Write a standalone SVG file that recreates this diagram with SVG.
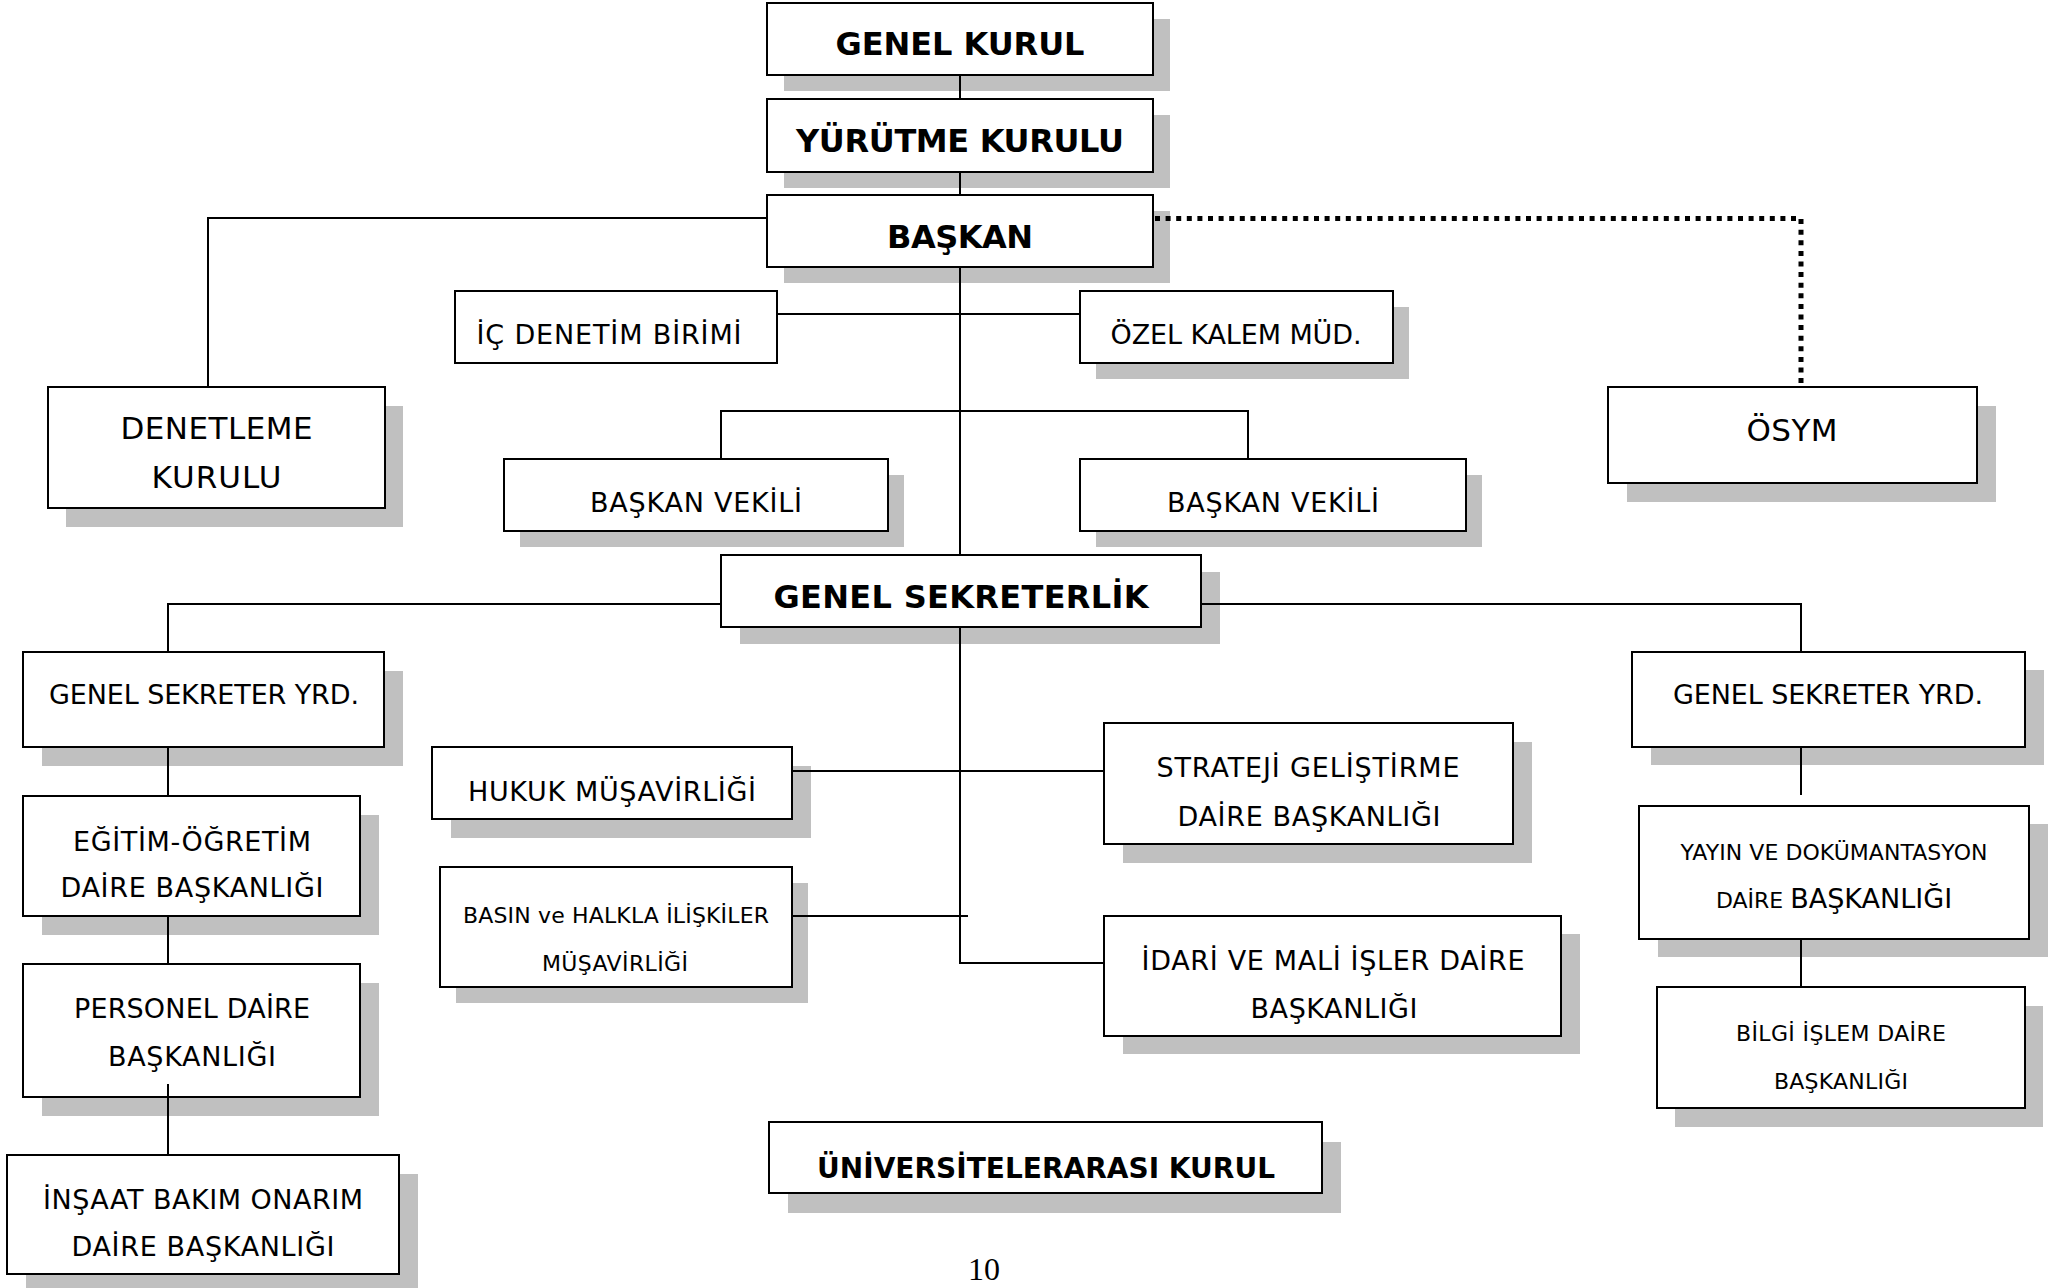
<svg xmlns="http://www.w3.org/2000/svg" width="2062" height="1288" viewBox="0 0 2062 1288">
<style>
.sh{fill:#c0c0c0;stroke:none}
.bx{fill:#fff;stroke:#000;stroke-width:2}
.ln{fill:none;stroke:#000;stroke-width:2}
.dot{fill:none;stroke:#000;stroke-width:5;stroke-dasharray:5 5.6}
text{font-family:"DejaVu Sans","Verdana",sans-serif;fill:#000;text-anchor:middle}
.b{font-weight:bold;font-size:32px}
.b2{font-weight:bold;font-size:28px}
.l{font-size:31px}
.m{font-size:27px}
.s{font-size:22px}
.pg{font-family:"Liberation Serif","Times New Roman",serif;font-size:32px}
</style>
<rect width="2062" height="1288" fill="#fff"/>
<g id="genel-kurul"><rect class="sh" x="784" y="19" width="386" height="72"/><rect class="bx" x="767" y="3" width="386" height="72"/><text class="b" x="960" y="55" textLength="249" lengthAdjust="spacing">GENEL KURUL</text></g>
<g id="yurutme-kurulu"><rect class="sh" x="784" y="115" width="386" height="73"/><rect class="bx" x="767" y="99" width="386" height="73"/><text class="b" x="960" y="152" textLength="328" lengthAdjust="spacing">YÜRÜTME KURULU</text></g>
<g id="baskan"><rect class="sh" x="784" y="211" width="386" height="72"/><rect class="bx" x="767" y="195" width="386" height="72"/><text class="b" x="960" y="248" textLength="146" lengthAdjust="spacing">BAŞKAN</text></g>
<g id="denetleme-kurulu"><rect class="sh" x="66" y="406" width="337" height="121"/><rect class="bx" x="48" y="387" width="337" height="121"/><text class="l" x="216.5" y="439" textLength="192" lengthAdjust="spacing">DENETLEME</text><text class="l" x="216.5" y="488" textLength="130" lengthAdjust="spacing">KURULU</text></g>
<g id="ic-denetim"><rect class="bx" x="455" y="291" width="322" height="72"/><text class="m" x="609" y="344" textLength="265" lengthAdjust="spacing">İÇ DENETİM BİRİMİ</text></g>
<g id="ozel-kalem"><rect class="sh" x="1096" y="307" width="313" height="72"/><rect class="bx" x="1080" y="291" width="313" height="72"/><text class="m" x="1236" y="344" textLength="251" lengthAdjust="spacing">ÖZEL KALEM MÜD.</text></g>
<g id="osym"><rect class="sh" x="1627" y="406" width="369" height="96"/><rect class="bx" x="1608" y="387" width="369" height="96"/><text class="l" x="1792" y="441" textLength="91" lengthAdjust="spacing">ÖSYM</text></g>
<g id="baskan-vekili-1"><rect class="sh" x="520" y="475" width="384" height="72"/><rect class="bx" x="504" y="459" width="384" height="72"/><text class="m" x="696" y="512" textLength="212" lengthAdjust="spacing">BAŞKAN VEKİLİ</text></g>
<g id="baskan-vekili-2"><rect class="sh" x="1096" y="475" width="386" height="72"/><rect class="bx" x="1080" y="459" width="386" height="72"/><text class="m" x="1273" y="512" textLength="212" lengthAdjust="spacing">BAŞKAN VEKİLİ</text></g>
<g id="genel-sekreterlik"><rect class="sh" x="740" y="572" width="480" height="72"/><rect class="bx" x="721" y="555" width="480" height="72"/><text class="b" x="961" y="608" textLength="375" lengthAdjust="spacing">GENEL SEKRETERLİK</text></g>
<g id="gsy-sol"><rect class="sh" x="42" y="671" width="361" height="95"/><rect class="bx" x="23" y="652" width="361" height="95"/><text class="m" x="204" y="704" textLength="310" lengthAdjust="spacing">GENEL SEKRETER YRD.</text></g>
<g id="gsy-sag"><rect class="sh" x="1651" y="670" width="393" height="95"/><rect class="bx" x="1632" y="652" width="393" height="95"/><text class="m" x="1828" y="704" textLength="310" lengthAdjust="spacing">GENEL SEKRETER YRD.</text></g>
<g id="egitim-ogretim"><rect class="sh" x="42" y="815" width="337" height="120"/><rect class="bx" x="23" y="796" width="337" height="120"/><text class="m" x="192" y="851" textLength="238" lengthAdjust="spacing">EĞİTİM-ÖĞRETİM</text><text class="m" x="192" y="897" textLength="263" lengthAdjust="spacing">DAİRE BAŞKANLIĞI</text></g>
<g id="personel"><rect class="sh" x="42" y="983" width="337" height="133"/><rect class="bx" x="23" y="964" width="337" height="133"/><text class="m" x="192" y="1018" textLength="236" lengthAdjust="spacing">PERSONEL DAİRE</text><text class="m" x="192" y="1066" textLength="168" lengthAdjust="spacing">BAŞKANLIĞI</text></g>
<g id="insaat"><rect class="sh" x="26" y="1174" width="392" height="119"/><rect class="bx" x="7" y="1155" width="392" height="119"/><text class="m" x="203" y="1209" textLength="320" lengthAdjust="spacing">İNŞAAT BAKIM ONARIM</text><text class="m" x="203" y="1256" textLength="263" lengthAdjust="spacing">DAİRE BAŞKANLIĞI</text></g>
<g id="hukuk"><rect class="sh" x="451" y="766" width="360" height="72"/><rect class="bx" x="432" y="747" width="360" height="72"/><text class="m" x="612" y="801" textLength="288" lengthAdjust="spacing">HUKUK MÜŞAVİRLİĞİ</text></g>
<g id="basin"><rect class="sh" x="456" y="883" width="352" height="120"/><rect class="bx" x="440" y="867" width="352" height="120"/><text class="s" x="616" y="923" textLength="306" lengthAdjust="spacing">BASIN ve HALKLA İLİŞKİLER</text><text class="s" x="615" y="971" textLength="146" lengthAdjust="spacing">MÜŞAVİRLİĞİ</text></g>
<g id="strateji"><rect class="sh" x="1123" y="742" width="409" height="121"/><rect class="bx" x="1104" y="723" width="409" height="121"/><text class="m" x="1308" y="777" textLength="303" lengthAdjust="spacing">STRATEJİ GELİŞTİRME</text><text class="m" x="1309" y="826" textLength="263" lengthAdjust="spacing">DAİRE BAŞKANLIĞI</text></g>
<g id="idari-mali"><rect class="sh" x="1123" y="934" width="457" height="120"/><rect class="bx" x="1104" y="916" width="457" height="120"/><text class="m" x="1333" y="970" textLength="383" lengthAdjust="spacing">İDARİ VE MALİ İŞLER DAİRE</text><text class="m" x="1334" y="1018" textLength="167" lengthAdjust="spacing">BAŞKANLIĞI</text></g>
<g id="yayin"><rect class="sh" x="1658" y="824" width="390" height="133"/><rect class="bx" x="1639" y="806" width="390" height="133"/><text class="s" x="1834" y="860" textLength="307" lengthAdjust="spacing">YAYIN VE DOKÜMANTASYON</text><text class="s" x="1834" y="908">DAİRE <tspan class="m">BAŞKANLIĞI</tspan></text></g>
<g id="bilgi-islem"><rect class="sh" x="1675" y="1006" width="368" height="121"/><rect class="bx" x="1657" y="987" width="368" height="121"/><text class="s" x="1841" y="1041" textLength="210" lengthAdjust="spacing">BİLGİ İŞLEM DAİRE</text><text class="s" x="1841" y="1089" textLength="134" lengthAdjust="spacing">BAŞKANLIĞI</text></g>
<g id="universitelerarasi"><rect class="sh" x="788" y="1142" width="553" height="71"/><rect class="bx" x="769" y="1122" width="553" height="71"/><text class="b2" x="1046" y="1178" textLength="458" lengthAdjust="spacing">ÜNİVERSİTELERARASI KURUL</text></g>
<text class="pg" x="984" y="1280">10</text>
<g id="connectors">
<path class="ln" d="M960 75V99M960 172V195M960 267V555M960 627V963H1104"/>
<path class="ln" d="M767 218H208V387"/>
<path class="dot" d="M1155 218.5H1801V387"/>
<path class="ln" d="M777 314H1080"/>
<path class="ln" d="M721 459V411H1248V459"/>
<path class="ln" d="M721 604H168V652M168 747V796M168 916V964M168 1084V1155"/>
<path class="ln" d="M1201 604H1801V652M1801 747V795M1801 939V987"/>
<path class="ln" d="M792 771H1104"/>
<path class="ln" d="M792 916H968"/>
</g>
</svg>
